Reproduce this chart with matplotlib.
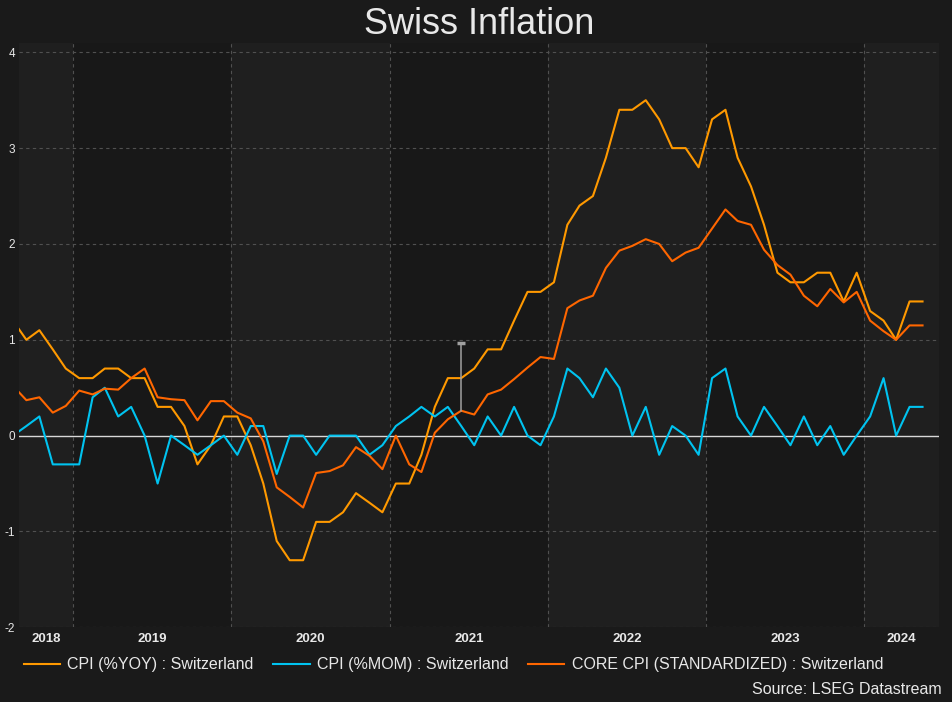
import numpy as np
import pandas as pd
import matplotlib
matplotlib.use("Agg")
import matplotlib.pyplot as plt

plt.rcParams['font.family'] = ['Liberation Sans', 'DejaVu Sans']

# monthly data, Aug 2018 .. May 2024
dates = pd.date_range('2018-08-01', '2024-05-01', freq='MS') + pd.Timedelta(days=14)

cpi_yoy = [
    1.2, 1.0, 1.1, 0.9, 0.7,
    0.6, 0.6, 0.7, 0.7, 0.6, 0.6, 0.3, 0.3, 0.1, -0.3, -0.1, 0.2,
    0.2, -0.1, -0.5, -1.1, -1.3, -1.3, -0.9, -0.9, -0.8, -0.6, -0.7, -0.8,
    -0.5, -0.5, -0.2, 0.3, 0.6, 0.6, 0.7, 0.9, 0.9, 1.2, 1.5, 1.5,
    1.6, 2.2, 2.4, 2.5, 2.9, 3.4, 3.4, 3.5, 3.3, 3.0, 3.0, 2.8,
    3.3, 3.4, 2.9, 2.6, 2.2, 1.7, 1.6, 1.6, 1.7, 1.7, 1.4, 1.7,
    1.3, 1.2, 1.0, 1.4, 1.4,
]
cpi_mom = [
    0.0, 0.1, 0.2, -0.3, -0.3,
    -0.3, 0.4, 0.5, 0.2, 0.3, 0.0, -0.5, 0.0, -0.1, -0.2, -0.1, 0.0,
    -0.2, 0.1, 0.1, -0.4, 0.0, 0.0, -0.2, 0.0, 0.0, 0.0, -0.2, -0.1,
    0.1, 0.2, 0.3, 0.2, 0.3, 0.1, -0.1, 0.2, 0.0, 0.3, 0.0, -0.1,
    0.2, 0.7, 0.6, 0.4, 0.7, 0.5, 0.0, 0.3, -0.2, 0.1, 0.0, -0.2,
    0.6, 0.7, 0.2, 0.0, 0.3, 0.1, -0.1, 0.2, -0.1, 0.1, -0.2, 0.0,
    0.2, 0.6, 0.0, 0.3, 0.3,
]
core_cpi = [
    0.52, 0.37, 0.40, 0.24, 0.31,
    0.47, 0.43, 0.49, 0.48, 0.60, 0.70, 0.40, 0.38, 0.37, 0.16, 0.36, 0.36,
    0.24, 0.18, -0.06, -0.54, -0.64, -0.75, -0.39, -0.37, -0.31, -0.12, -0.21, -0.35,
    0.00, -0.30, -0.38, 0.03, 0.17, 0.26, 0.22, 0.43, 0.48, 0.59, 0.71, 0.82,
    0.80, 1.33, 1.41, 1.46, 1.75, 1.93, 1.98, 2.05, 2.00, 1.82, 1.91, 1.96,
    2.16, 2.36, 2.24, 2.20, 1.94, 1.78, 1.68, 1.46, 1.35, 1.53, 1.39, 1.50,
    1.20, 1.09, 1.00, 1.15, 1.15,
]
labels = ['CPI (%YOY) : Switzerland', 'CPI (%MOM) : Switzerland',
          'CORE CPI (STANDARDIZED) : Switzerland']
colors = ['#ff9900', '#00c3f0', '#ff6600']
years = [2018, 2019, 2020, 2021, 2022, 2023, 2024]
yticks = [-2, -1, 0, 1, 2, 3, 4]
marker_date = pd.Timestamp('2021-06-15')
marker_top = 0.97

BG = '#1a1a1a'
BAND_DARK = '#181818'
BAND_LIGHT = '#1f1f1f'
TXT = '#e8e8e8'

fig = plt.figure(figsize=(9.52, 7.02), dpi=100, facecolor=BG)
ax = fig.add_axes([19 / 952, 1 - 627.3 / 702, 920 / 952, (627.3 - 42.7) / 702])
ax.set_facecolor(BAND_DARK)

x0 = pd.Timestamp('2018-08-29')
x1 = pd.Timestamp('2024-06-22')
ax.set_xlim(x0, x1)
ax.set_ylim(-2, 4.1)

# alternating year bands + year labels in the visible part of each year
mids = []
for i, y in enumerate(years):
    a = max(pd.Timestamp(f'{y}-01-01'), x0)
    b = min(pd.Timestamp(f'{y + 1}-01-01'), x1)
    if i % 2 == 0:
        ax.axvspan(a, b, color=BAND_LIGHT, lw=0, zorder=0)
    mids.append(a + (b - a) / 2)
    if y > years[0]:
        ax.axvline(pd.Timestamp(f'{y}-01-01'), color='#505050', lw=0.8,
                   ls=(0, (3, 3)), zorder=1)

for v in yticks:
    if v != 0:
        ax.axhline(v, color='#505050', lw=0.8, ls=(0, (3, 3)), zorder=1)
ax.axhline(0, color='#d8d8d8', lw=1.0, zorder=2)

for vals, c, lab in zip([cpi_yoy, cpi_mom, core_cpi], colors, labels):
    ax.plot(dates, vals, color=c, lw=1.5, label=lab, zorder=3)

# cursor marker
core_at_marker = core_cpi[list(dates).index(marker_date)]
ax.plot([marker_date, marker_date], [core_at_marker, marker_top],
        color='#a0a0a0', lw=1.1, zorder=4)
ax.plot([marker_date], [marker_top], marker='_', ms=6, mew=2.5,
        color='#a0a0a0', zorder=4)

ax.set_xticks(mids)
ax.set_xticklabels([str(y) for y in years], fontsize=9.5, fontweight='bold',
                   color=TXT)
ax.set_yticks(yticks)
ax.set_yticklabels([str(v) for v in yticks], fontsize=8.5, color=TXT)
ax.tick_params(axis='both', length=0)
ax.tick_params(axis='x', pad=4)
ax.tick_params(axis='y', pad=3)
for s in ax.spines.values():
    s.set_visible(False)

fig.text(479 / 952, 1 - 25 / 702, 'Swiss Inflation', fontsize=26, color=TXT,
         ha='center', va='center')

fig.legend(loc='center left', bbox_to_anchor=(23.5 / 952, 1 - 665 / 702),
           ncol=3, frameon=False, fontsize=11.5, labelcolor=TXT,
           handlelength=2.3, handletextpad=0.45, columnspacing=1.2,
           borderaxespad=0, borderpad=0)

fig.text(942 / 952, 1 - 690 / 702, 'Source: LSEG Datastream', fontsize=11.5,
         color=TXT, ha='right', va='center')

fig.savefig('out.png', dpi=100, facecolor=BG)
